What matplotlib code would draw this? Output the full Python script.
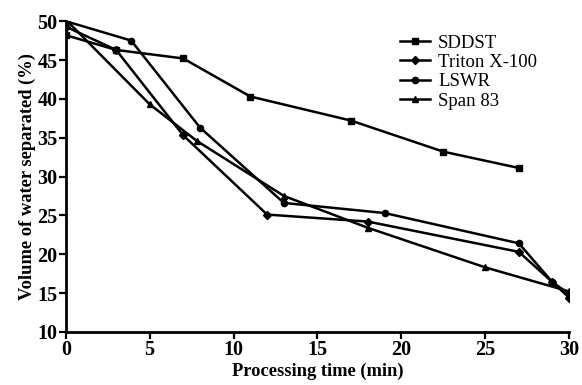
import matplotlib
matplotlib.use('Agg')
import matplotlib.pyplot as plt

plt.rcParams['font.family'] = ['Liberation Serif', 'DejaVu Serif']

# data
sddst_t = [0, 3, 7, 11, 17, 22.5, 27]
sddst_v = [48.2, 46.3, 45.2, 40.3, 37.2, 33.2, 31.1]

triton_t = [0, 3, 7, 12, 18, 27, 29, 30]
triton_v = [49.3, 46.3, 35.3, 25.1, 24.2, 20.3, 16.4, 14.4]

lswr_t = [0, 3.9, 8, 13, 19, 27, 29, 30]
lswr_v = [50.0, 47.5, 36.3, 26.6, 25.3, 21.4, 16.4, 14.9]

span_t = [0, 5, 7.8, 13, 18, 25, 30]
span_v = [50.2, 39.3, 34.6, 27.5, 23.4, 18.3, 15.2]

labels = ['SDDST', 'Triton X-100', 'LSWR', 'Span 83']

fig = plt.figure(figsize=(5.82, 3.85), dpi=100)
ax = fig.add_axes([0.113, 0.138, 0.865, 0.807])

lw = 1.8
ax.plot(sddst_t, sddst_v, 'k-', marker='s', ms=4.5, lw=lw, label=labels[0])
ax.plot(triton_t, triton_v, 'k-', marker='D', ms=4, lw=lw, label=labels[1])
ax.plot(lswr_t, lswr_v, 'k-', marker='o', ms=4.5, lw=lw, label=labels[2])
ax.plot(span_t, span_v, 'k-', marker='^', ms=5, lw=lw, label=labels[3])

ax.set_xlim(0, 30)
ax.set_ylim(10, 50)
ax.set_xticks([0, 5, 10, 15, 20, 25, 30])
ax.set_yticks([10, 15, 20, 25, 30, 35, 40, 45, 50])

ax.spines['right'].set_color('none')
ax.spines['top'].set_color('none')
ax.spines['left'].set_linewidth(2)
ax.spines['bottom'].set_linewidth(2)
ax.tick_params(direction='out', length=5, width=1.6, labelsize=14.5, pad=1)
for label in ax.get_xticklabels() + ax.get_yticklabels():
    label.set_fontweight('bold')

ax.set_xlabel('Processing time (min)', fontsize=13.3, fontweight='bold', labelpad=2)
ax.set_ylabel('Volume of water separated (%)', fontsize=13.3, fontweight='bold', labelpad=1)

ax.legend(loc='upper left', bbox_to_anchor=(0.672, 0.935), bbox_transform=fig.transFigure,
          frameon=False, fontsize=13.5, handlelength=1.6, handletextpad=0.4,
          labelspacing=0.12, borderpad=0.0)

fig.savefig('out.png', dpi=100)
